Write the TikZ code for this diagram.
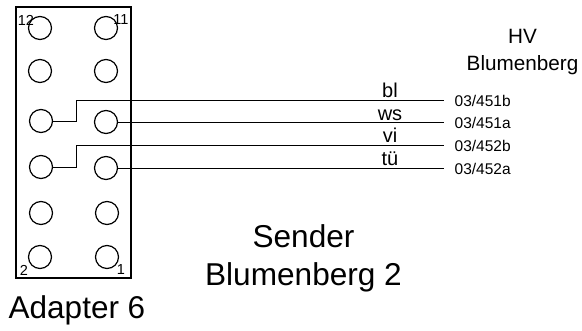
\documentclass[tikz,border=0pt]{standalone}
\usepackage{fontspec}
\setmainfont{Liberation Sans}
\tikzset{
  pin/.style={circle, draw, line width=1.2pt, minimum size=23pt, inner sep=0pt},
  wire/.style={line width=0.9pt},
  txt/.style={inner sep=0pt, align=center, font=\fontsize{#1}{#1}\selectfont},
}
\begin{document}
\begin{tikzpicture}[x=1pt, y=-1pt]
  \useasboundingbox (0,0) rectangle (582,331);
  \node (box) [draw, line width=1.5pt, minimum width=115pt, minimum height=271pt, inner sep=0pt] at (73.5,142.5) {};

  \begin{scope}[every node/.style={pin}]
    \node (p12) at (40,28) {};
    \node (p11) at (106,28) {};
    \node (p10) at (40,71) {};
    \node (p9) at (106,71) {};
    \node (p8) at (41,121) {};
    \node (p7) at (106,122) {};
    \node (p6) at (41,167) {};
    \node (p5) at (106,168) {};
    \node (p4) at (41,213) {};
    \node (p3) at (107,213) {};
    \node (p2) at (40,257) {};
    \node (p1) at (107,257) {};
  \end{scope}

  \begin{scope}[every node/.style={txt=14.5}]
    \node (n12) at (26,20) {12};
    \node (n11) at (121,20) {11};
    \node (n2) at (24,270) {2};
    \node (n1) at (121,270) {1};
  \end{scope}

  \coordinate (e1) at (444,100);
  \coordinate (e2) at (444,122);
  \coordinate (e3) at (444,145);
  \coordinate (e4) at (444,168);
  \coordinate (j1) at (76,121);
  \coordinate (j2) at (76,167);

  \begin{scope}[wire]
    \draw (p8) -- (j1) |- (e1);
    \draw (p7) -- (e2);
    \draw (p6) -- (j2) |- (e3);
    \draw (p5) -- (e4);
  \end{scope}

  \begin{scope}[every node/.style={txt=20}]
    \node (bl) [anchor=base] at (390,98) {bl};
    \node (ws) [anchor=base] at (390,121) {ws};
    \node (vi) [anchor=base] at (390,143) {vi};
    \node (tu) [anchor=base] at (390,166) {tü};
  \end{scope}

  \begin{scope}[every node/.style={txt=15.5, anchor=base west}]
    \node (t1) at (454.5,107) {03/451b};
    \node (t2) at (454.5,129) {03/451a};
    \node (t3) at (454.5,152) {03/452b};
    \node (t4) at (454.5,175) {03/452a};
  \end{scope}

  \node (hv) [txt=20.7] at (522.5,52) {HV\\[6pt]Blumenberg};
  \node (sender) [txt=31.6] at (303.5,258.5) {Sender\\[6.5pt]Blumenberg 2};
  \node (adapter) [txt=31.5, anchor=base west] at (8.5,318.5) {Adapter 6};
\end{tikzpicture}
\end{document}
